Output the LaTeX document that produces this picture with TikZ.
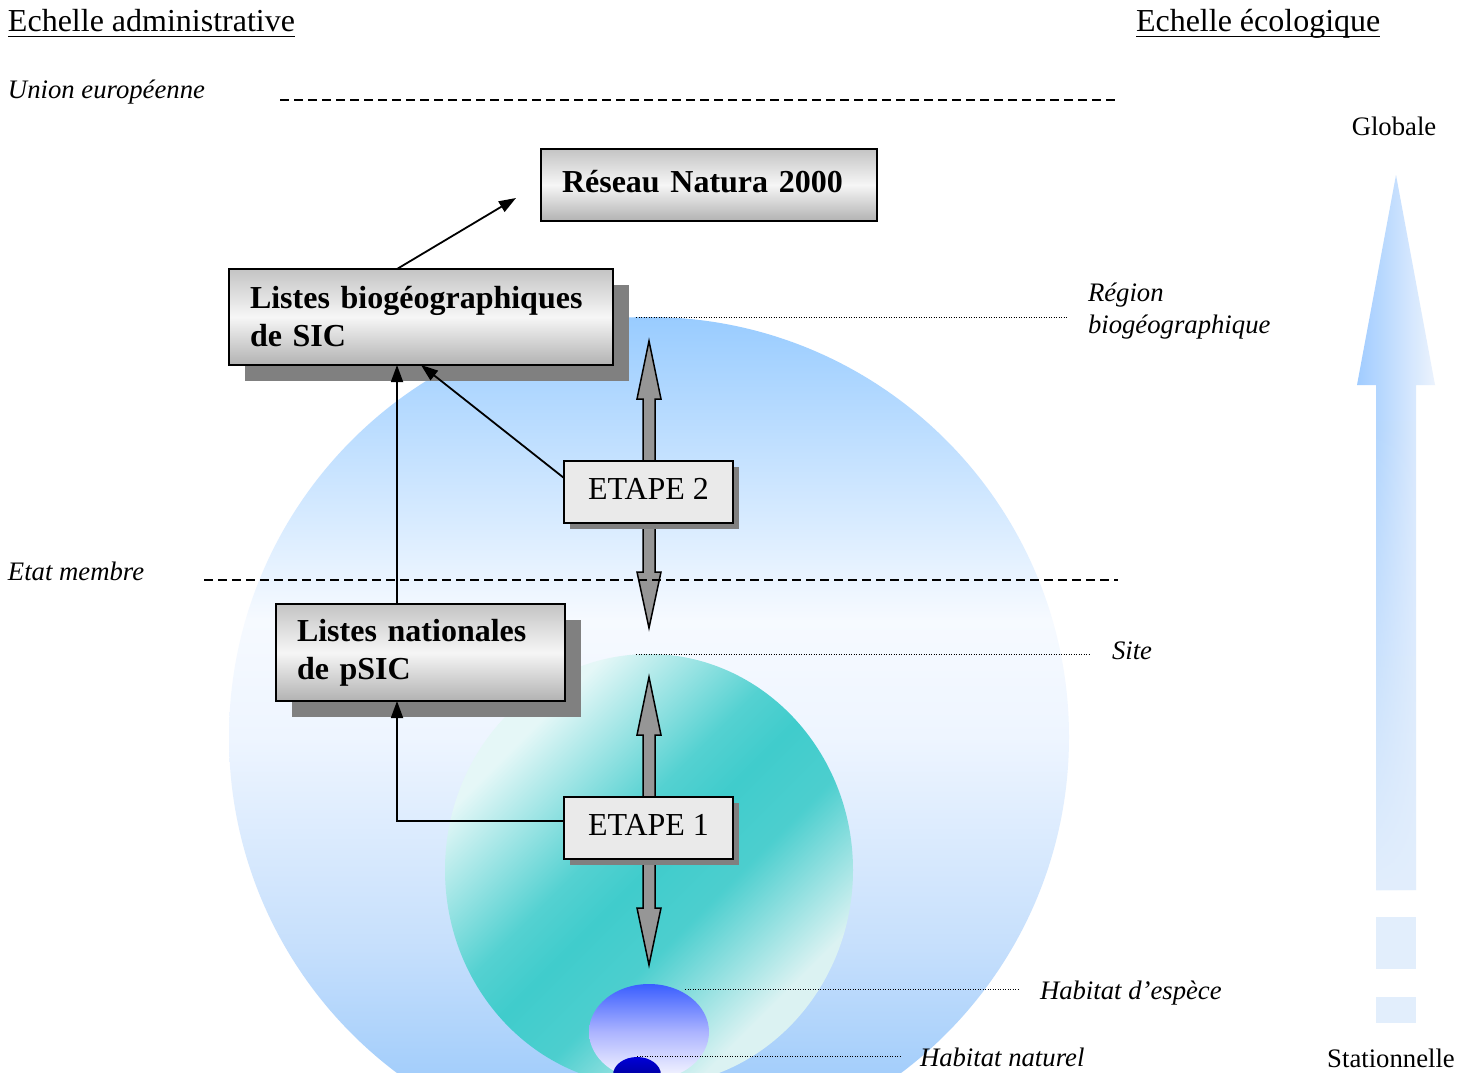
\documentclass[tikz,border=0pt]{standalone}
\usepackage{fontspec}
\setmainfont{Liberation Serif}
\usetikzlibrary{arrows.meta,calc,fadings,shadows}

\definecolor{boxTop}{HTML}{C4C4C4}
\definecolor{boxMid}{HTML}{F6F6F6}
\definecolor{boxBot}{HTML}{B2B2B2}
\definecolor{stepFill}{HTML}{EAEAEA}
\definecolor{shadowGray}{HTML}{808080}
\definecolor{arrowGray}{HTML}{969696}
\definecolor{speciesTop}{HTML}{3A5EFF}
\definecolor{speciesMid}{HTML}{ACB4FF}
\definecolor{speciesBot}{HTML}{FAFAFF}
\definecolor{naturalTop}{HTML}{0000D8}
\definecolor{naturalBot}{HTML}{00006E}
\definecolor{scaleLeft}{HTML}{A0CCFF}
\definecolor{scaleRight}{HTML}{ECF3FD}
\definecolor{scaleLow}{HTML}{E2EEFC}

% transparent at the top, opaque at the bottom
\tikzfading[name=shaftfade, top color=transparent!100, bottom color=transparent!0]

% vertical sky shading of the biogeographic region (bottom = 25bp, top = 75bp)
\pgfdeclareverticalshading{skyball}{100bp}{%
  rgb(0bp)=(0.60,0.79,1); rgb(25bp)=(0.60,0.79,1);
  rgb(30bp)=(0.643,0.808,0.984); rgb(37.5bp)=(0.776,0.875,0.988);
  rgb(50bp)=(0.933,0.961,1); rgb(57bp)=(0.965,0.98,1);
  rgb(75bp)=(0.60,0.80,1); rgb(100bp)=(0.60,0.80,1)}

% broad turquoise band of the site (rotated diagonally when used)
\pgfdeclareverticalshading{siteband}{100bp}{%
  rgb(0bp)=(0.86,0.95,0.95); rgb(28bp)=(0.86,0.95,0.95);
  rgb(42bp)=(0.30,0.81,0.81); rgb(50bp)=(0.25,0.80,0.80);
  rgb(56bp)=(0.33,0.82,0.82); rgb(72bp)=(0.90,0.97,0.97);
  rgb(100bp)=(0.90,0.97,0.97)}

\begin{document}
\begin{tikzpicture}[x=1pt,y=-1pt,
  every node/.style={inner sep=0pt, outer sep=0pt},
  bigbox/.style={draw=black, line width=1.8pt, top color=boxTop, bottom color=boxBot,
    middle color=boxMid, anchor=north west, align=left, inner xsep=21pt,
    font=\fontsize{32}{38}\selectfont\bfseries},
  boxshadow/.style={drop shadow={shadow xshift=#1, shadow yshift=-#1,
    fill=shadowGray, opacity=1}},
  stepbox/.style={draw=black, line width=1.8pt, fill=stepFill, anchor=north west,
    minimum width=169pt, minimum height=62pt, text height=22pt, text depth=8pt,
    font=\fontsize{32}{38}\selectfont, boxshadow=6pt},
  conn/.style={line width=1.8pt, -{Triangle[length=17pt,width=12pt]}},
  level/.style={line width=1.5pt, dash pattern=on 9pt off 5pt},
  guide/.style={line width=1pt, dash pattern=on 1pt off 1.5pt},
  lab/.style={anchor=base west, font=\fontsize{26.7}{32}\selectfont\itshape},
  title/.style={anchor=base west, font=\fontsize{32}{38}\selectfont},
  scalelabel/.style={anchor=base, font=\fontsize{26.7}{32}\selectfont},
  blockarrow/.style={fill=arrowGray, draw=black, line width=1.5pt, line join=miter},
]
\useasboundingbox (0,0) rectangle (1472,1073);
\clip (0,0) rectangle (1472,1073);
\fill[white] (0,0) rectangle (1472,1073);

% nested ecological scales
\shade[shading=skyball] (649,737) circle[radius=420];
\shade[shading=siteband, shading angle=45]
  (649,870) ellipse[x radius=204, y radius=216];
\shade[top color=speciesTop, bottom color=speciesBot, middle color=speciesMid]
  (649,1032) ellipse[x radius=60, y radius=48];
\shade[top color=naturalTop, bottom color=naturalBot]
  (637,1075) ellipse[x radius=24, y radius=18];

% leaders to the scale names
\draw[guide] (636,317) -- (1068,317);
\draw[guide] (636,654) -- (1091,654);
\draw[guide] (685,989) -- (1019,989);
\draw[guide] (637,1056) -- (901,1056);

\node[lab, anchor=north west, align=left] (rb) at (1088,283) {Région\\biogéographique};
\node[lab] (si) at (1112,659) {Site};
\node[lab] (he) at (1040,999) {Habitat d’espèce};
\node[lab] (hn) at (920,1066) {Habitat naturel};

% two-way exchanges between scales
\draw[blockarrow] (649,341) -- (661,399) -- (655,399) -- (655,572) -- (661,572) -- (649,628)
  -- (637,572) -- (643,572) -- (643,399) -- (637,399) -- cycle;
\draw[blockarrow] (649,677) -- (661,735) -- (655,735) -- (655,908) -- (661,908) -- (649,965)
  -- (637,908) -- (643,908) -- (643,735) -- (637,735) -- cycle;

% administrative levels
\draw[level] (280,100) -- (1118,100);
\draw[level] (204,580) -- (1118,580);

\node[title] (ta) at (8,32) {Echelle administrative};
\draw[line width=1.6pt] ([yshift=-4.5pt]ta.base west) -- ([yshift=-4.5pt]ta.base east);
\node[title] (te) at (1136,32) {Echelle écologique};
\draw[line width=1.6pt] ([yshift=-4.5pt]te.base west) -- ([yshift=-4.5pt]te.base east);
\node[lab] (ue) at (8,99) {Union européenne};
\node[lab] (em) at (8,580) {Etat membre};

% boxes
\node[bigbox, text width=294pt, minimum height=72pt, text height=22pt, text depth=8pt]
  (rn) at (541,149) {Réseau Natura 2000};
\node[bigbox, boxshadow=16pt, text width=342pt, minimum height=96pt]
  (lb) at (229,269) {Listes biogéographiques\\de SIC};
\node[bigbox, boxshadow=16pt, text width=247pt, minimum height=97pt]
  (ln) at (276,604) {Listes nationales\\de pSIC};
\node[stepbox] (e2) at (564,461) {ETAPE 2};
\node[stepbox] (e1) at (564,797) {ETAPE 1};

% procedure
\coordinate (col) at (397,0);
\coordinate (rnTip) at (516,198);
\draw[conn] (lb.north -| col) -- (rnTip);
\draw[conn] (ln.north -| col) -- (lb.south -| col);
\draw[conn] ($(e2.west)+(0,-14)$) -- (lb.south);
\draw[conn] ($(e1.west)+(0,-7)$) -| (ln.south -| col);

% ecological scale arrow
\shade[left color=scaleLeft, right color=scaleRight]
  (1396,175) -- (1435,385) -- (1416,385) -- (1416,890) -- (1376,890) -- (1376,385)
  -- (1357,385) -- cycle;
\fill[scaleLow, path fading=shaftfade] (1376,420) rectangle (1416,890);
\fill[scaleLow] (1376,917) rectangle (1416,969);
\fill[scaleLow] (1376,997) rectangle (1416,1023);
\node[scalelabel] (gl) at (1394,135) {Globale};
\node[scalelabel] (st) at (1391,1067) {Stationnelle};
\end{tikzpicture}
\end{document}
